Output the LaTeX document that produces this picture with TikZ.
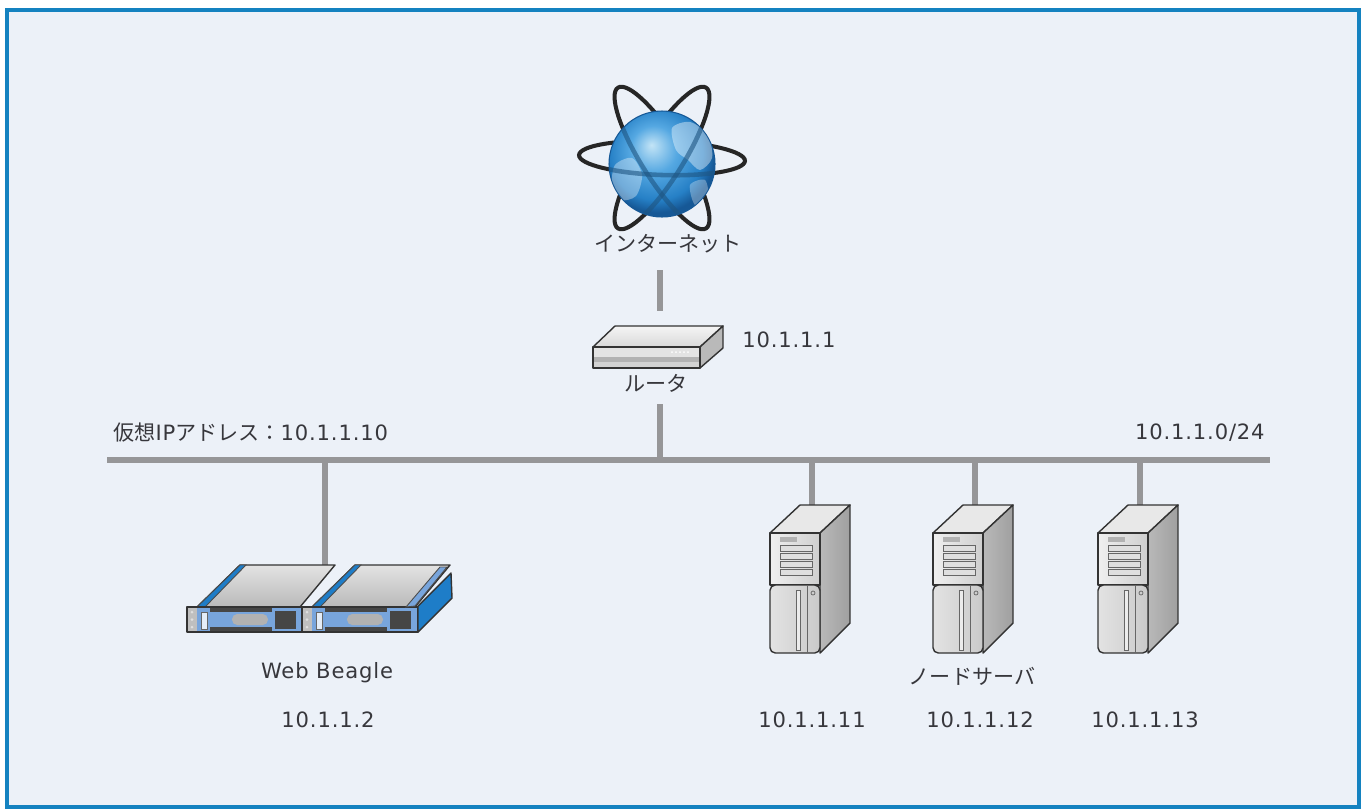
\documentclass[tikz,border=0pt]{standalone}
\usepackage{fontspec}
\setmainfont{DejaVu Sans}[LetterSpace=4]
\newfontfamily\jpfont{Noto Sans CJK JP}
\usetikzlibrary{positioning}
\definecolor{frameblue}{RGB}{20,130,192}
\definecolor{paneback}{RGB}{236,241,248}
\definecolor{wiregray}{RGB}{150,150,152}
\definecolor{labeltext}{RGB}{55,55,60}
\definecolor{globelight}{RGB}{195,228,246}
\definecolor{globemid}{RGB}{85,168,226}
\definecolor{globeblue}{RGB}{38,128,198}
\definecolor{globedeep}{RGB}{22,88,150}
\definecolor{globefront}{RGB}{30,85,130}
\definecolor{railblue}{RGB}{30,125,200}
\definecolor{panelblue}{RGB}{120,165,220}
\pgfdeclareradialshading{globeshade}{\pgfpoint{-5bp}{9bp}}{color(0bp)=(globelight); color(11bp)=(globemid); color(22bp)=(globeblue); color(27bp)=(globedeep); color(50bp)=(globedeep)}

\begin{document}
\begin{tikzpicture}[x=0.02cm, y=0.02cm,
    wire/.style={wiregray, line width=3.4pt},
    lbl/.style={font=\fontsize{12}{14}\selectfont, text=labeltext, inner sep=0pt},
    edge/.style={draw=black!80, line width=0.8pt, line join=round}]

  % Background and frame
  \useasboundingbox (0,0) rectangle (1365,-809);
  \fill[paneback] (7,-10) rectangle (1359,-807);
  \draw[frameblue, line width=2.3pt] (7,-10) rectangle (1359,-807);

  % Labels
  \node[lbl] (inet) at (668,-244) {\jpfont インターネット};
  \node[lbl, anchor=west] (rtaddr) at (742,-340) {10.1.1.1};
  \node[lbl] (router) at (656,-383) {\jpfont ルータ};
  \node[lbl, anchor=west] (vip) at (113,-433) {{\jpfont 仮想}IP{\jpfont アドレス：}10.1.1.10};
  \node[lbl, anchor=east] (subnet) at (1265,-433) {10.1.1.0/24};
  \node[lbl] (beagle) at (327,-673) {Web Beagle};
  \node[lbl] (beagleip) at (328,-720) {10.1.1.2};
  \node[lbl] (nodesrv) at (972,-676) {\jpfont ノードサーバ};

  % Wires
  \coordinate (busW) at (107,-460);
  \coordinate (busE) at (1270,-460);
  \coordinate (inet-s) at (660,-270);
  \coordinate (rt-n) at (660,-311);
  \coordinate (rt-s) at (660,-404);
  \coordinate (wb-n) at (325,-567);
  \draw[wire] (busW) -- (busE);
  \draw[wire] (inet-s) -- (rt-n);
  \draw[wire] (rt-s) -- (rt-s |- busW);
  \draw[wire] (wb-n) -- (wb-n |- busW);

  % Internet globe
  \foreach \ang/\ry in {-2/17, 58/21, -58/21} {
    \draw[black!85, line width=2.3pt, rotate around={\ang:(662,-158)}] (662,-158) ellipse [x radius=83, y radius=\ry];
  }
  \shade[shading=globeshade] (662,-164) circle (53);
  \draw[globedeep, line width=0.6pt] (662,-164) circle (53);
  \begin{scope}
    \clip (662,-164) circle (52.5);
    \fill[white, opacity=0.4] plot[smooth cycle] coordinates {(672,-128) (690,-122) (708,-135) (712,-158) (700,-170) (688,-160) (676,-150)};
    \fill[white, opacity=0.35] plot[smooth cycle] coordinates {(615,-165) (632,-158) (642,-175) (636,-196) (620,-200) (612,-185)};
    \fill[white, opacity=0.3] plot[smooth cycle] coordinates {(690,-185) (705,-180) (708,-198) (695,-205)};
    \foreach \ang/\ry in {-2/17, 58/21, -58/21} {
      \begin{scope}[shift={(662,-158)}, rotate=\ang]
        \draw[globefront, opacity=0.6, line width=2.6pt] (-83,0) arc[start angle=180, end angle=360, x radius=83, y radius=\ry];
      \end{scope}
    }
  \end{scope}

  % Router
  \path[edge, top color=gray!8, bottom color=gray!30] (593,-347) -- (615,-326) -- (723,-326) -- (700,-347) -- cycle;
  \path[edge, fill=gray!55] (700,-347) -- (723,-326) -- (723,-348) -- (700,-368) -- cycle;
  \fill[gray!22] (593,-347) rectangle (700,-357);
  \fill[gray!60] (593,-357) rectangle (700,-362);
  \fill[gray!35] (593,-362) rectangle (700,-368);
  \draw[edge] (593,-347) rectangle (700,-368);
  \foreach \dx in {0,...,4} \fill[white] (672+4*\dx,-352) circle (1);

  % Web Beagle
  \foreach \u in {0,115} {
    \begin{scope}[shift={(\u,0)}]
      \path[edge, top color=gray!22, bottom color=gray!55] (197,-607) -- (240,-565) -- (335,-565) -- (300,-607) -- cycle;
      \filldraw[railblue, draw=black!70, line width=0.5pt] (197,-607) -- (240,-565) -- (246,-565) -- (205,-607) -- cycle;
      \fill[gray!50] (187,-607) rectangle (197,-632);
      \fill[panelblue] (197,-607) rectangle (303,-632);
      \fill[gray!55!black] (210,-608) rectangle (272,-631);
      \fill[panelblue] (210,-612) rectangle (272,-627);
      \fill[gray!60, rounded corners=3] (232,-614) rectangle (268,-625);
      \fill[gray!55!black] (275,-611) rectangle (296,-629);
      \filldraw[white!80!panelblue, draw=black!60, line width=0.4pt] (201,-612) rectangle (207,-629);
      \foreach \yy in {-612,-619.5,-627} \fill[gray!25] (192,\yy) circle (1.5);
      \draw[edge] (187,-607) rectangle (303,-632);
    \end{scope}
  }
  \filldraw[panelblue, draw=black!70, line width=0.5pt] (406,-607) -- (440,-567) -- (447,-567) -- (415,-606) -- cycle;
  \filldraw[edge, fill=railblue] (418,-632) -- (418,-606) -- (451,-573) -- (452,-598) -- cycle;

  % Node servers
  \foreach \sx/\ip/\lx [count=\i] in {770/11/812, 933/12/980, 1098/13/1145} {
    \coordinate (srv\i) at (\sx+42,-510);
    \draw[wire] (srv\i) -- (srv\i |- busW);
    \node[lbl] (srvip\i) at (\lx,-720) {10.1.1.\ip};
    \begin{scope}[shift={(\sx,0)}]
      \filldraw[edge, fill=gray!18] (0,-533) -- (30,-505) -- (80,-505) -- (50,-533) -- cycle;
      \path[edge, left color=gray!55, right color=gray!75] (50,-533) -- (80,-505) -- (80,-623) -- (50,-653) -- cycle;
      \path[edge, left color=gray!12, right color=gray!38] (0,-533) rectangle (50,-585);
      \path[edge, left color=gray!22, right color=gray!42, rounded corners=3] (0,-585) -- (0,-653) -- (50,-653) -- (50,-585) -- cycle;
      \fill[gray!60] (10,-537) rectangle (27,-542);
      \foreach \by in {545,553,561,569} \filldraw[gray!25, draw=black!60, line width=0.4pt] (10,-\by) rectangle (42,-\by-6);
      \draw[black!60, line width=0.4pt] (37,-585) -- (37,-653);
      \filldraw[gray!15, draw=black!60, line width=0.4pt] (26,-590) rectangle (30,-650);
      \draw[black!60, line width=0.4pt] (43,-593) circle (2);
    \end{scope}
  }
\end{tikzpicture}
\end{document}
